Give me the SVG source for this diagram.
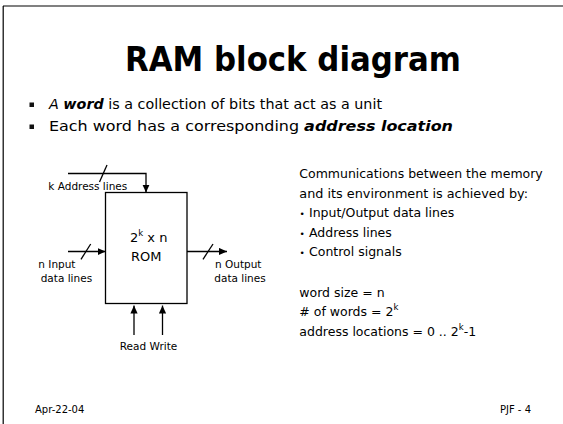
<svg xmlns="http://www.w3.org/2000/svg" width="563" height="424" viewBox="0 0 563 424">
  <style>
    text { font-family: "DejaVu Sans", "Liberation Sans", sans-serif; fill: #000; }
    .title { font-size: 33px; font-weight: bold; }
    .body { font-size: 13.5px; }
    .note { font-size: 12.5px; }
    .lbl { font-size: 10.5px; }
    .foot { font-size: 10px; }
    .wire { fill: none; stroke: #000; stroke-width: 1.3; }
    .bi { font-weight: bold; font-style: italic; }
  </style>
  <defs>
    <marker id="arrow" viewBox="0 0 8 8" refX="8" refY="4" markerWidth="8" markerHeight="8" markerUnits="userSpaceOnUse" orient="auto">
      <path d="M0,0.4 L8,4 L0,7.6 Z" fill="#000"/>
    </marker>
  </defs>

  <rect width="563" height="424" fill="#fff"/>
  <!-- slide frame -->
  <line x1="3" y1="6" x2="563" y2="6" stroke="#808080" stroke-width="1.8"/>
  <line x1="3.2" y1="6" x2="3.2" y2="424" stroke="#000" stroke-width="1.2"/>

  <text class="title" x="125" y="71" textLength="336" lengthAdjust="spacingAndGlyphs">RAM block diagram</text>

  <g id="bullets">
    <rect x="29.5" y="102.5" width="4.5" height="4.5" fill="#111"/>
    <rect x="29.5" y="124.5" width="4.5" height="4.5" fill="#111"/>
    <text class="body" x="49" y="109" textLength="333" lengthAdjust="spacingAndGlyphs"><tspan font-style="italic">A </tspan><tspan class="bi">word</tspan> is a collection of bits that act as a unit</text>
    <text class="body" x="49" y="131" textLength="404" lengthAdjust="spacingAndGlyphs">Each word has a corresponding <tspan class="bi">address location</tspan></text>
  </g>

  <g id="rom">
    <rect x="105.5" y="192.5" width="81.5" height="111" fill="none" stroke="#000" stroke-width="1.3"/>
    <text class="body" x="130" y="241.5" style="font-size:13px">2<tspan font-size="8.5" dy="-6">k</tspan><tspan dy="6"> x n</tspan></text>
    <text class="body" x="131" y="260.5" style="font-size:13px">ROM</text>
  </g>

  <g id="connectors">
    <path class="wire" d="M68,173.5 H146 V192.5" marker-end="url(#arrow)"/>
    <line class="wire" x1="107" y1="165" x2="99.5" y2="182"/>
    <line class="wire" x1="68" y1="251.5" x2="105.5" y2="251.5" marker-end="url(#arrow)"/>
    <line class="wire" x1="90.7" y1="244" x2="81" y2="259.3"/>
    <line class="wire" x1="187" y1="251.5" x2="227" y2="251.5" marker-end="url(#arrow)"/>
    <line class="wire" x1="213" y1="244" x2="203" y2="259.3"/>
    <line class="wire" x1="134" y1="335" x2="134" y2="305.5" marker-end="url(#arrow)"/>
    <line class="wire" x1="162.5" y1="335" x2="162.5" y2="305.5" marker-end="url(#arrow)"/>
  </g>

  <g id="labels">
    <text class="lbl" x="48.3" y="190">k Address lines</text>
    <text class="lbl" x="38.3" y="268">n Input</text>
    <text class="lbl" x="40.7" y="281.7">data lines</text>
    <text class="lbl" x="215" y="268">n Output</text>
    <text class="lbl" x="214.3" y="281.7">data lines</text>
    <text class="lbl" x="148.5" y="350" text-anchor="middle">Read Write</text>
  </g>

  <g id="notes">
    <text class="note" x="299.3" y="178.3" textLength="243.4" lengthAdjust="spacingAndGlyphs">Communications between the memory</text>
    <text class="note" x="299.3" y="198" textLength="228.7" lengthAdjust="spacingAndGlyphs">and its environment is achieved by:</text>
    <text class="note" x="299.5" y="217.3" font-size="9" style="font-size:9px">•</text>
    <text class="note" x="309" y="217.3">Input/Output data lines</text>
    <text class="note" x="299.5" y="236.8" style="font-size:9px">•</text>
    <text class="note" x="309" y="236.8">Address lines</text>
    <text class="note" x="299.5" y="256.3" style="font-size:9px">•</text>
    <text class="note" x="309" y="256.3">Control signals</text>
    <text class="note" x="299.3" y="296.5">word size = n</text>
    <text class="note" x="299.3" y="316"># of words = 2<tspan font-size="8.5" dy="-6">k</tspan></text>
    <text class="note" x="299.3" y="335.5">address locations = 0 .. 2<tspan font-size="8.5" dy="-6">k</tspan><tspan dy="6">-1</tspan></text>
  </g>

  <g id="footer">
    <text class="foot" x="35" y="413">Apr-22-04</text>
    <text class="foot" x="531" y="413" text-anchor="end">PJF - 4</text>
  </g>
</svg>
